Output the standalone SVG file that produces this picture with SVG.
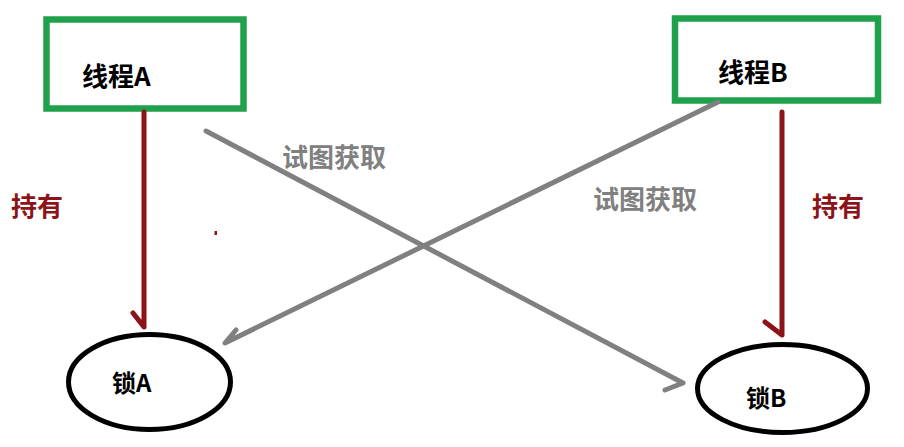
<svg xmlns="http://www.w3.org/2000/svg" width="904" height="447" viewBox="0 0 904 447">
<style>
.box{fill:#fff;stroke:#1FA04B;stroke-width:6.5}
.lock{fill:#fff;stroke:#000;stroke-width:5}
.t{font-family:"Noto Sans CJK SC","Liberation Sans",sans-serif;font-weight:bold}
.black{fill:#000}
.red{fill:#8C1419}
.gray{fill:#808080}
.hold{stroke:#8C1419;stroke-width:5;fill:none;stroke-linecap:round;stroke-linejoin:round}
.try{stroke:#808080;stroke-width:5;fill:none;stroke-linecap:round;stroke-linejoin:round}
</style>
<rect width="904" height="447" fill="#fff"/>
<g id="threadA">
<rect class="box" x="46.5" y="19.5" width="197" height="89"/>
<text class="t black" x="82" y="86" font-size="26">线程A</text>
</g>
<g id="threadB">
<rect class="box" x="675" y="18.5" width="203" height="82"/>
<text class="t black" x="718" y="82" font-size="26">线程B</text>
</g>
<g id="lockA">
<ellipse class="lock" cx="149.5" cy="382" rx="81" ry="47.5"/>
<text class="t black" x="112" y="392" font-size="24">锁A</text>
</g>
<g id="lockB">
<ellipse class="lock" cx="782.5" cy="388.5" rx="85" ry="44"/>
<text class="t black" x="746" y="407" font-size="24">锁B</text>
</g>
<g id="connectors">
<path class="hold" d="M144 112 L144 327 L133 313"/>
<path class="hold" d="M782 112 L782 335 L765 322"/>
<path class="try" d="M206 131 L683 383 L665 390"/>
<path class="try" d="M718 102 L225 343 L236 330"/>
<rect x="214.5" y="231" width="2.5" height="4" fill="#8C1419"/>
</g>
<g id="labels">
<text class="t red" x="11" y="216" font-size="26">持有</text>
<text class="t red" x="812" y="216" font-size="26">持有</text>
<text class="t gray" x="282" y="167" font-size="26">试图获取</text>
<text class="t gray" x="593" y="209" font-size="26">试图获取</text>
</g>
</svg>
